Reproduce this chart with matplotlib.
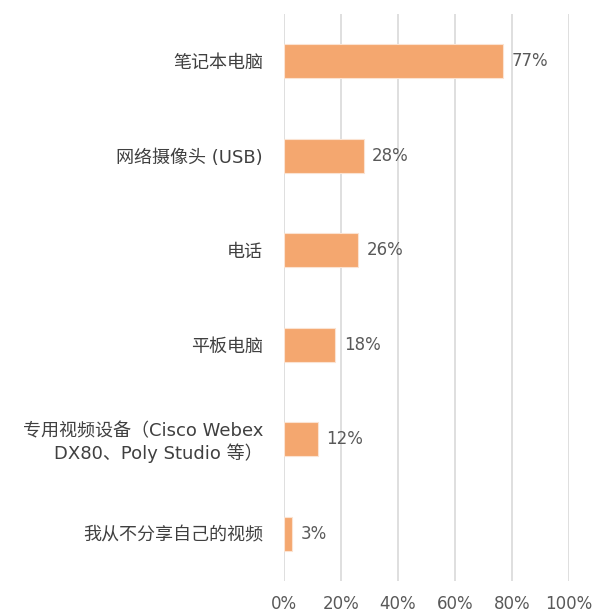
import numpy as np
import matplotlib.pyplot as plt

plt.rcParams['font.family'] = ['DejaVu Sans', 'Noto Sans CJK SC']

categories = ['笔记本电脑', '网络摄像头 (USB)', '电话', '平板电脑',
              '专用视频设备（Cisco Webex\nDX80、Poly Studio 等）', '我从不分享自己的视频']
values = [77, 28, 26, 18, 12, 3]
tick_vals = [0, 20, 40, 60, 80, 100]
tick_labels = ['0%', '20%', '40%', '60%', '80%', '100%']

fig = plt.figure(figsize=(5.95, 6.13), dpi=100)
ax = fig.add_axes([0.477, 0.052, 0.479, 0.925])

y = np.arange(len(categories))
ax.barh(y, values, height=0.36, color='#F4A76F', edgecolor='#FBE3D2', linewidth=0.8, zorder=3)

for yi, v in zip(y, values):
    ax.text(v + 3, yi, f'{v}%', va='center', ha='left', fontsize=12, color='#595959')

ax.set_yticks(y)
ax.set_yticklabels(categories, fontsize=13, color='#404040', multialignment='right')
ax.set_ylim(len(categories) - 0.5, -0.5)
ax.set_xlim(0, 100)
ax.set_xticks(tick_vals)
ax.set_xticklabels(tick_labels, fontsize=12, color='#595959')
ax.tick_params(axis='both', length=0)
ax.tick_params(axis='x', pad=10)
ax.tick_params(axis='y', pad=15)

ax.grid(axis='x', color='#D9D9D9', linewidth=1.2, zorder=0)
for s in ax.spines.values():
    s.set_visible(False)

plt.savefig('out.png', dpi=100)
